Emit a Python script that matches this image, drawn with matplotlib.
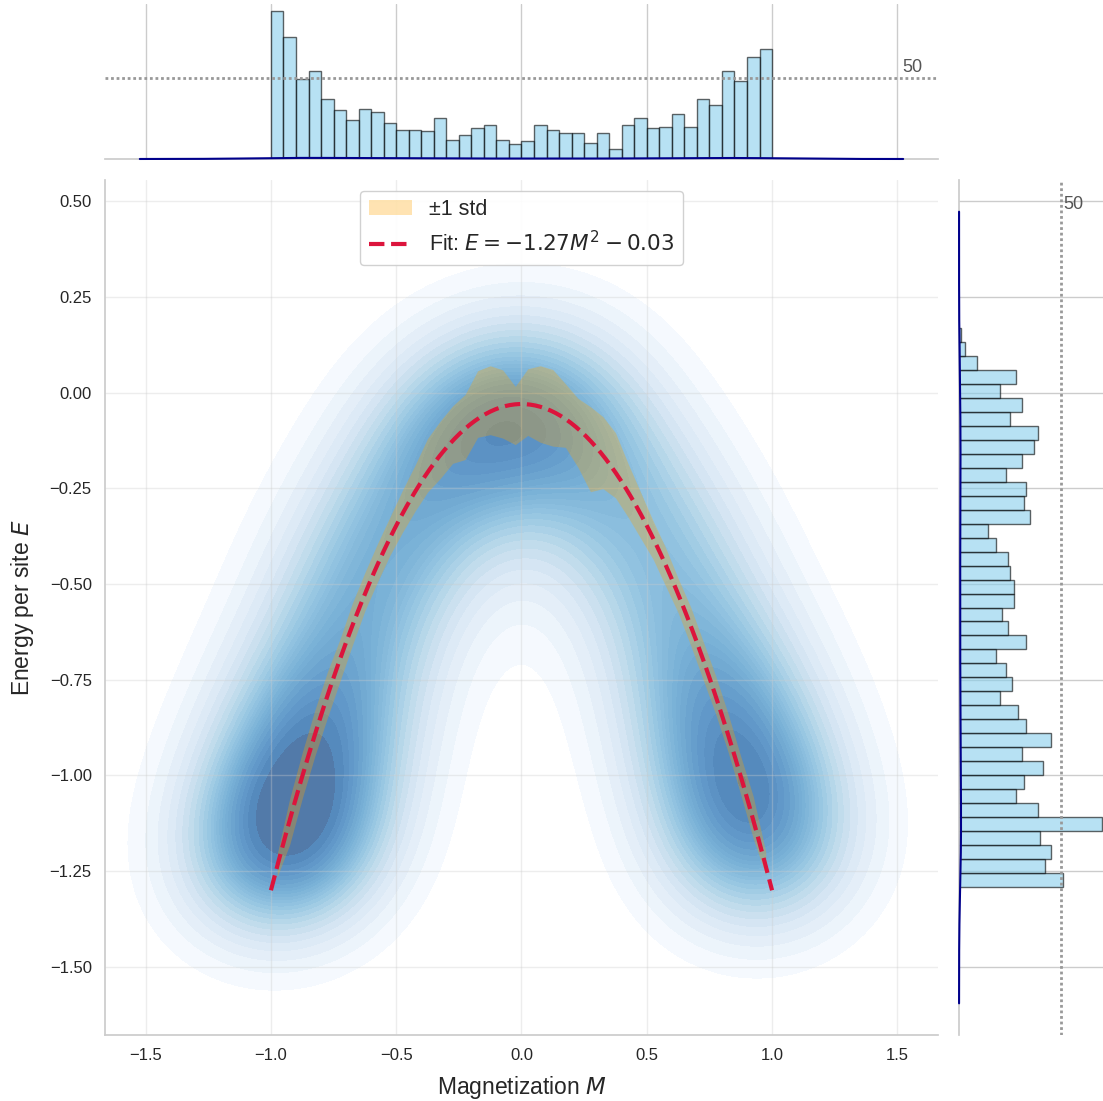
import numpy as np
import matplotlib
matplotlib.use("Agg")
import matplotlib.pyplot as plt
from matplotlib.colors import ListedColormap
import seaborn as sns

sns.set_theme(style="whitegrid")
plt.rcParams['font.family'] = ['Liberation Sans', 'DejaVu Sans']

# --- data ---
# magnetization histogram, 40 bins on [-1, 1]
m_lo, m_hi = -1.0, 1.0
m_counts = [91, 75, 49, 54, 37, 30, 24, 31, 29, 22, 18, 18, 17, 25, 12, 15, 19, 21, 12, 9,
            11, 21, 18, 16, 16, 10, 16, 6, 21, 25, 19, 20, 28, 20, 37, 33, 54, 48, 63, 68]

# energy histogram, 40 bins (listed from lowest E to highest E)
e_lo, e_hi = -1.291, 0.168
e_counts = [51, 42, 45, 40, 70, 39, 28, 32, 41, 31, 45, 33, 29, 20, 26, 23, 18, 33, 24, 21,
            27, 27, 25, 24, 18, 14, 35, 32, 33, 23, 31, 37, 39, 25, 31, 20, 28, 9, 3, 1]

# mean and std of E in each magnetization bin
band_mean = [-1.235, -1.12, -1.00, -0.89, -0.79, -0.70, -0.605, -0.52, -0.445, -0.375,
             -0.31, -0.25, -0.19, -0.15, -0.11, -0.09, -0.03, -0.02, -0.03, -0.06,
             -0.025, -0.03, -0.04, -0.06, -0.105, -0.148, -0.157, -0.19, -0.255, -0.32,
             -0.385, -0.455, -0.53, -0.61, -0.70, -0.79, -0.89, -1.00, -1.11, -1.23]
band_std = [0.03, 0.06, 0.06, 0.06, 0.06, 0.055, 0.055, 0.05, 0.05, 0.05,
            0.055, 0.06, 0.07, 0.075, 0.075, 0.085, 0.087, 0.09, 0.089, 0.076,
            0.087, 0.10, 0.10, 0.083, 0.09, 0.111, 0.094, 0.085, 0.07, 0.06,
            0.05, 0.05, 0.045, 0.05, 0.05, 0.05, 0.05, 0.05, 0.055, 0.03]

# quadratic fit E = a M^2 + b
fit_a, fit_b = -1.27, -0.03
ref_count = 50

# --- derived quantities ---
m_counts = np.array(m_counts, float)
e_counts = np.array(e_counts, float)
band_mean = np.array(band_mean)
band_std = np.array(band_std)
m_edges = np.linspace(m_lo, m_hi, len(m_counts) + 1)
m_centers = 0.5 * (m_edges[:-1] + m_edges[1:])
m_w = m_edges[1] - m_edges[0]
e_edges = np.linspace(e_lo, e_hi, len(e_counts) + 1)
e_centers = 0.5 * (e_edges[:-1] + e_edges[1:])
e_w = e_edges[1] - e_edges[0]
n = m_counts.sum()

# bivariate kde (scott bandwidth), per-bin spread in E added to kernel
fac = n ** (-1 / 6)
bw_adjust = 1.35
mx = np.average(m_centers, weights=m_counts)
my = np.average(band_mean, weights=m_counts)
vx = np.average((m_centers - mx) ** 2, weights=m_counts) + m_w ** 2 / 12
vy = np.average((band_mean - my) ** 2 + band_std ** 2, weights=m_counts)
cxy = np.average((m_centers - mx) * (band_mean - my), weights=m_counts)
H = fac ** 2 * np.array([[vx, cxy], [cxy, vy]])
bwx, bwy = np.sqrt(H[0, 0]), np.sqrt(H[1, 1])
H = H * bw_adjust ** 2

xg = np.linspace(m_lo - 3 * bwx, m_hi + 3 * bwx, 300)
yg = np.linspace(e_lo - 3 * bwy, e_hi + 3 * bwy, 300)
X, Y = np.meshgrid(xg, yg)
Z = np.zeros_like(X)
for xi, yi, si, wi in zip(m_centers, band_mean, band_std, m_counts):
    C = H + np.diag([m_w ** 2 / 12, si ** 2])
    Ci = np.linalg.inv(C)
    dx, dy = X - xi, Y - yi
    q = Ci[0, 0] * dx * dx + 2 * Ci[0, 1] * dx * dy + Ci[1, 1] * dy * dy
    Z += wi * np.exp(-0.5 * q) / (2 * np.pi * np.sqrt(np.linalg.det(C)))
Z /= n

# iso-proportion levels like seaborn
n_levels = 25
props = np.linspace(0.05, 1, n_levels)
vals = np.sort(Z.ravel())[::-1]
cum = np.cumsum(vals) / vals.sum()
levels = np.take(vals, np.searchsorted(cum, 1 - props), mode='clip')
levels = np.unique(levels)

# Blues at alpha 0.7 over white, pre-blended so seams stay light
blues = plt.get_cmap('Blues')(np.linspace(0, 1, 256))
blues[:, :3] = 0.7 * blues[:, :3] + 0.3
blues_soft = ListedColormap(blues)


def kde1d(grid, centers, weights, binw):
    sd = np.sqrt(np.average((centers - np.average(centers, weights=weights)) ** 2,
                            weights=weights))
    bw = sd * weights.sum() ** (-0.2)
    var = bw ** 2 + binw ** 2 / 12
    d = np.zeros_like(grid)
    for c, w in zip(centers, weights):
        d += w * np.exp(-0.5 * (grid - c) ** 2 / var)
    return d / (weights.sum() * np.sqrt(2 * np.pi * var)), bw


# --- figure ---
fig = plt.figure(figsize=(11.03, 11.01), dpi=100)
ax = fig.add_axes([0.0952, 0.0599, 0.7552, 0.7766])
ax_top = fig.add_axes([0.0952, 0.8556, 0.7552, 0.1408], sharex=ax)
ax_right = fig.add_axes([0.8695, 0.0599, 0.1305, 0.7766], sharey=ax)

ax.contourf(X, Y, Z, levels=levels, cmap=blues_soft, zorder=1)
ax.fill_between(m_centers, band_mean - band_std, band_mean + band_std,
                color='orange', alpha=0.3, lw=0, label='±1 std', zorder=2)
mf = np.linspace(m_lo, m_hi, 200)
ax.plot(mf, fit_a * mf ** 2 + fit_b, '--', color='crimson', lw=3, zorder=3,
        label=f'Fit: $E = {fit_a:.2f}M^2 - {abs(fit_b):.2f}$')
ax.set_xlim(xg[0], xg[-1])
ax.set_ylim(yg[0], yg[-1])
ax.xaxis.set_major_locator(matplotlib.ticker.MultipleLocator(0.5))
ax.yaxis.set_major_locator(matplotlib.ticker.MultipleLocator(0.25))
ax.set_axisbelow('line')
ax.grid(True, alpha=0.35, zorder=1.5)
ax.tick_params(labelsize=12)
ax.set_xlabel('Magnetization $M$', fontsize=16.5, labelpad=8)
ax.set_ylabel('Energy per site $E$', fontsize=16.5, labelpad=10)
ax.legend(loc='upper center', fontsize=15.5, framealpha=0.9)
for s in ['top', 'right']:
    ax.spines[s].set_visible(False)

# top marginal
ax_top.bar(m_centers, m_counts, width=m_w, color='skyblue', alpha=0.6,
           edgecolor='black', linewidth=1)
xs = np.linspace(m_lo, m_hi, 300)
dm, bwm = kde1d(xs, m_centers, m_counts, m_w)
xs = np.linspace(m_lo - 3 * bwm, m_hi + 3 * bwm, 300)
dm, _ = kde1d(xs, m_centers, m_counts, m_w)
ax_top.plot(xs, dm, color='darkblue', lw=1.5, zorder=4, clip_on=False)
ax_top.axhline(ref_count, color='#999999', ls=(0, (1, 1)), lw=2)
ax_top.text(1.52, ref_count + 1, str(ref_count), fontsize=13, color='#555555',
            ha='left', va='bottom')
ax_top.set_ylim(0, max(m_counts) * 1.05)
ax_top.set_yticks([])
ax_top.tick_params(labelbottom=False)
for s in ['top', 'right', 'left']:
    ax_top.spines[s].set_visible(False)

# right marginal
ax_right.barh(e_centers, e_counts, height=e_w, color='skyblue', alpha=0.6,
              edgecolor='black', linewidth=1)
ys = np.linspace(e_lo, e_hi, 300)
de, bwe = kde1d(ys, e_centers, e_counts, e_w)
ys = np.linspace(e_lo - 3 * bwe, e_hi + 3 * bwe, 300)
de, _ = kde1d(ys, e_centers, e_counts, e_w)
ax_right.plot(de, ys, color='darkblue', lw=1.5, zorder=4, clip_on=False)
ax_right.axvline(ref_count, color='#999999', ls=(0, (1, 1)), lw=2)
ax_right.text(ref_count + 1, 0.49, str(ref_count), fontsize=13, color='#555555',
              ha='left', va='center')
ax_right.set_xlim(0, max(e_counts) * 1.01)
ax_right.set_xticks([])
ax_right.tick_params(labelleft=False)
for s in ['top', 'right', 'bottom']:
    ax_right.spines[s].set_visible(False)

fig.savefig('out.png', dpi=100)
